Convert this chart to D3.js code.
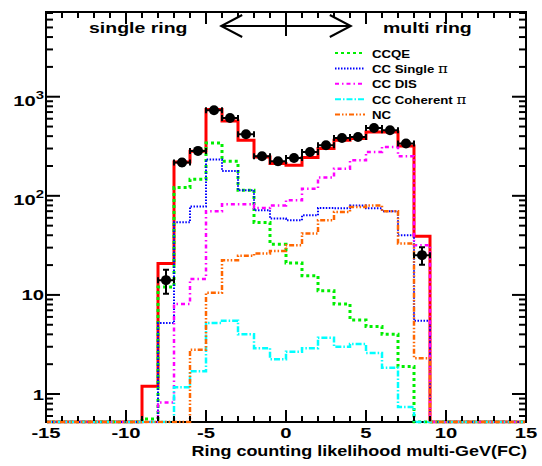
<!DOCTYPE html>
<html>
<head>
<meta charset="utf-8">
<script src="https://cdn.jsdelivr.net/npm/d3@7"></script>
<style>
  body { margin: 0; background: #fff; }
  svg { display: block; }
</style>
</head>
<body>
<script>
// Lower edge of each 1-unit bin of the ring-counting likelihood
const binLow = [-9, -8, -7, -6, -5, -4, -3, -2, -1, 0, 1, 2, 3, 4, 5, 6, 7, 8];

// Monte Carlo prediction: total and interaction modes
const totalMC      = [1.2, 20.8, 220, 282, 741, 569, 363, 247, 212, 203, 243, 300, 363, 378, 441, 441, 318, 39];
const ccqe         = [0.56, 12, 121, 147, 341, 223, 114, 53.8, 32.5, 21, 15.6, 11, 8.1, 5.6, 4.8, 4.0, 1.9, 0];
const ccSinglePi   = [0, 5.2, 54, 78, 232, 178, 114, 71.6, 59, 56.8, 63.7, 75.5, 75, 80, 75, 70, 40, 5.5];
const ccDIS        = [0, 0.82, 8.1, 14.5, 70, 82, 82, 75.5, 80, 90, 118, 153, 188, 228, 277, 311, 251, 31.8];
const ccCoherentPi = [0, 0, 1.17, 1.7, 5.2, 5.5, 4.0, 2.9, 2.24, 2.67, 2.9, 3.7, 3.0, 3.2, 2.6, 1.84, 0.74, 0];
const ncEvents     = [0, 0, 0, 2.8, 10.5, 22.4, 24.8, 26.2, 27.7, 31.8, 41.7, 56.8, 68.8, 77, 80, 70, 33, 2.3];

// Observed events per bin and their statistical errors
const dataCounts = [0, 14.1, 217, 284, 729, 611, 418, 251, 223, 241, 277, 324, 384, 392, 484, 458, 337, 25.2];
const dataErrors = [0, 3.8, 14.7, 16.9, 27, 24.7, 20.4, 15.8, 14.9, 15.5, 16.6, 18, 19.6, 19.8, 22, 21.4, 18.4, 5];

// Axis ticks
const xMajorTicks = [-15, -10, -5, 0, 5, 10, 15];
const yDecades = [0, 1, 2, 3];

// Legend
const legendNames = ["CCQE", "CC Single", "CC DIS", "CC Coherent", "NC"];
const legendPi = [false, true, false, true, false];

const W = 542, H = 466;
const frame = { left: 46, right: 526, top: 12, bottom: 422 };

const svg = d3.select("body").append("svg")
  .attr("width", W).attr("height", H)
  .style("font-family", "'Liberation Sans', Arial, Helvetica, sans-serif")
  .style("font-weight", "bold");

const x = d3.scaleLinear().domain([-15, 15]).range([frame.left, frame.right]);
const yMin = 0.522, yMax = 7160;
const y = d3.scaleLog().domain([yMin, yMax]).range([frame.bottom, frame.top]);
const yc = v => y(Math.max(v, yMin));

// Frame outline drawn first so the histograms lie on top of its floor
const axes = svg.append("g").attr("stroke", "#000").attr("stroke-width", 2).attr("fill", "none");
axes.append("rect")
  .attr("x", frame.left).attr("y", frame.top)
  .attr("width", frame.right - frame.left).attr("height", frame.bottom - frame.top);

svg.append("clipPath").attr("id", "plotClip")
  .append("rect")
  .attr("x", frame.left + 1).attr("y", frame.top)
  .attr("width", frame.right - frame.left - 2).attr("height", frame.bottom - frame.top + 1.5);

const plot = svg.append("g").attr("clip-path", "url(#plotClip)");

// Step outline across the full axis range; empty bins sit on the frame floor
function stepPoints(values) {
  const pts = [];
  for (let e = -15; e < binLow[0]; e++) { pts.push([e, 0], [e + 1, 0]); }
  values.forEach((v, i) => { pts.push([binLow[i], v], [binLow[i] + 1, v]); });
  for (let e = binLow[binLow.length - 1] + 1; e < 15; e++) { pts.push([e, 0], [e + 1, 0]); }
  return pts;
}
const stepLine = d3.line().x(d => x(d[0])).y(d => yc(d[1]));

const series = [
  { values: totalMC,      color: "#ff0000", width: 3,   dash: null },
  { values: ccqe,         color: "#00ee00", width: 3,   dash: "3 3" },
  { values: ccSinglePi,   color: "#0000ff", width: 2,   dash: "1.5 1.5" },
  { values: ccDIS,        color: "#ff00ff", width: 2.5, dash: "4 3 1.5 3" },
  { values: ccCoherentPi, color: "#00ffff", width: 2.5, dash: "6 2 1.5 2" },
  { values: ncEvents,     color: "#ff6600", width: 2.5, dash: "5 2 1.5 2 1.5 2" }
];

series.forEach(s => {
  plot.append("path")
    .attr("d", stepLine(stepPoints(s.values)))
    .attr("fill", "none")
    .attr("stroke", s.color)
    .attr("stroke-width", s.width)
    .attr("stroke-dasharray", s.dash);
});

// Data points with horizontal (bin width) and vertical (statistical) error bars
const pts = plot.append("g").attr("stroke", "#000").attr("stroke-width", 2);
dataCounts.forEach((n, i) => {
  if (n <= 0) return;
  const cx = x(binLow[i] + 0.5), cy = y(n);
  const x0 = x(binLow[i]), x1 = x(binLow[i] + 1);
  const yTop = y(n + dataErrors[i]), yBot = y(n - dataErrors[i]);
  pts.append("line").attr("x1", x0).attr("x2", x1).attr("y1", cy).attr("y2", cy);
  pts.append("line").attr("x1", x0).attr("x2", x0).attr("y1", cy - 3).attr("y2", cy + 3);
  pts.append("line").attr("x1", x1).attr("x2", x1).attr("y1", cy - 3).attr("y2", cy + 3);
  pts.append("line").attr("x1", cx).attr("x2", cx).attr("y1", yTop).attr("y2", yBot);
  pts.append("line").attr("x1", cx - 3).attr("x2", cx + 3).attr("y1", yTop).attr("y2", yTop);
  pts.append("line").attr("x1", cx - 3).attr("x2", cx + 3).attr("y1", yBot).attr("y2", yBot);
  pts.append("circle").attr("cx", cx).attr("cy", cy).attr("r", 5).attr("fill", "#000").attr("stroke", "none");
});

// Left axis line and tick marks on all four sides
const ticks = svg.append("g").attr("stroke", "#000").attr("stroke-width", 2).attr("fill", "none");
ticks.append("line").attr("x1", frame.left).attr("x2", frame.left).attr("y1", frame.top).attr("y2", frame.bottom);
for (let v = -15; v <= 15; v++) {
  const len = (v % 5 === 0) ? 12 : 6;
  const px = x(v);
  ticks.append("line").attr("x1", px).attr("x2", px).attr("y1", frame.bottom - 1).attr("y2", frame.bottom - len);
  ticks.append("line").attr("x1", px).attr("x2", px).attr("y1", frame.top).attr("y2", frame.top + len);
}
for (let d = -1; d <= 3; d++) {
  for (let m = 1; m <= 9; m++) {
    const v = m * Math.pow(10, d);
    if (v < yMin || v > yMax) continue;
    const len = (m === 1) ? 14 : 7;
    const py = y(v);
    ticks.append("line").attr("x1", frame.left).attr("x2", frame.left + len).attr("y1", py).attr("y2", py);
    ticks.append("line").attr("x1", frame.right).attr("x2", frame.right - len).attr("y1", py).attr("y2", py);
  }
}

// Text helper: wide bold lettering
function wideText(px, py, str, size, sx, anchor) {
  return svg.append("text")
    .attr("transform", `translate(${px},${py}) scale(${sx},1)`)
    .attr("text-anchor", anchor)
    .attr("font-size", size)
    .attr("fill", "#000")
    .text(str);
}

// X tick labels
xMajorTicks.forEach(v => wideText(x(v), 437.5, String(v), 15, 1.35, "middle"));

// Y tick labels (decades)
yDecades.forEach(d => {
  const py = y(Math.pow(10, d));
  if (d < 2) {
    wideText(44, py + 5.5, String(Math.pow(10, d)), 15, 1.35, "end");
  } else {
    const t = wideText(44, py + 9, "10", 15, 1.35, "end");
    t.append("tspan").attr("dy", -7).attr("font-size", 11).text(String(d));
  }
});

// Axis title
wideText(527, 456, "Ring counting likelihood multi-GeV(FC)", 15, 1.2, "end");

// Region labels and separating arrow
wideText(89, 33, "single ring", 15, 1.3, "start");
wideText(383, 33, "multi ring", 15, 1.3, "start");

const arrow = svg.append("g").attr("stroke", "#000").attr("stroke-width", 2).attr("fill", "none");
const aL = x(-4.05), aR = x(4.05), aY = 26;
arrow.append("line").attr("x1", aL).attr("x2", aR).attr("y1", aY).attr("y2", aY);
arrow.append("polyline").attr("points", `${aL + 21},${aY - 11} ${aL},${aY} ${aL + 21},${aY + 11}`);
arrow.append("polyline").attr("points", `${aR - 21},${aY - 11} ${aR},${aY} ${aR - 21},${aY + 11}`);
arrow.append("line").attr("x1", x(0)).attr("x2", x(0)).attr("y1", 14).attr("y2", 36);

// Legend
const legend = svg.append("g");
legendNames.forEach((name, i) => {
  const s = series[i + 1];
  const ry = 53 + i * 15.4;
  legend.append("line")
    .attr("x1", 335).attr("x2", 365).attr("y1", ry).attr("y2", ry)
    .attr("stroke", s.color).attr("stroke-width", 2).attr("stroke-dasharray", s.dash);
  const t = svg.append("text")
    .attr("transform", `translate(372,${ry + 4.5}) scale(1.15,1)`)
    .attr("font-size", 11.5).attr("fill", "#000")
    .text(name);
  if (legendPi[i]) {
    t.append("tspan").text(" ");
    t.append("tspan").attr("font-family", "'DejaVu Serif', 'Liberation Serif', serif")
      .attr("font-weight", "normal").attr("font-size", 13).text("π");
  }
});
</script>
</body>
</html>
